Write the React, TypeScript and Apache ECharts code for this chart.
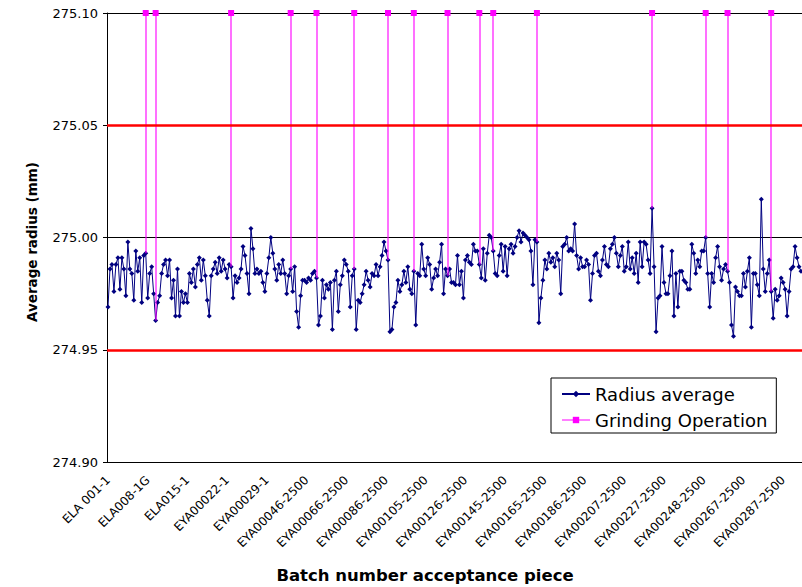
import React, { useEffect, useRef } from "react";
import * as echarts from "echarts";

const tickLabels = [
  "ELA 001-1", "ELA008-1G", "ELA015-1", "EYA00022-1", "EYA00029-1",
  "EYA00046-2500", "EYA00066-2500", "EYA00086-2500", "EYA00105-2500",
  "EYA00126-2500", "EYA00145-2500", "EYA00165-2500", "EYA00186-2500",
  "EYA00207-2500", "EYA00227-2500", "EYA00248-2500", "EYA00267-2500",
  "EYA00287-2500",
];
const labelStep = 20;

const radiusAverage = [
  274.969, 274.986, 274.988, 274.976, 274.988, 274.991, 274.977, 274.991, 274.986, 274.974,
  274.998, 274.986, 274.984, 274.972, 274.994, 274.985, 274.991, 274.971, 274.992, 274.993,
  274.973, 274.984, 274.987, 274.975, 274.963, 274.971, 274.974, 274.984, 274.988, 274.990,
  274.983, 274.990, 274.973, 274.981, 274.965, 274.986, 274.965, 274.976, 274.971, 274.975,
  274.971, 274.984, 274.980, 274.986, 274.978, 274.988, 274.991, 274.981, 274.990, 274.983,
  274.972, 274.965, 274.983, 274.986, 274.989, 274.984, 274.991, 274.985, 274.990, 274.986,
  274.982, 274.988, 274.987, 274.973, 274.983, 274.980, 274.982, 274.986, 274.996, 274.992,
  274.984, 274.975, 275.004, 274.995, 274.984, 274.986, 274.984, 274.985, 274.980, 274.976,
  274.984, 274.991, 275.000, 274.993, 274.986, 274.981, 274.988, 274.984,
  274.990, 274.984,
  274.975, 274.983, 274.986, 274.976, 274.987, 274.967, 274.960, 274.974, 274.981, 274.981,
  274.980, 274.982, 274.981, 274.984, 274.985, 274.982, 274.961, 274.965, 274.981, 274.973,
  274.979, 274.977, 274.980, 274.959, 274.981, 274.985, 274.967, 274.979, 274.983, 274.990,
  274.988, 274.985, 274.969, 274.983, 274.986, 274.959, 274.972, 274.971, 274.975, 274.979,
  274.985, 274.981, 274.978, 274.984, 274.983, 274.988, 274.983, 274.987, 274.992, 274.998,
  274.994, 274.990, 274.958, 274.959, 274.969, 274.971, 274.981, 274.976, 274.979, 274.985,
  274.980, 274.987, 274.977, 274.975, 274.985, 274.961, 274.984, 274.983, 274.997, 274.986,
  274.983, 274.991, 274.988, 274.977, 274.982, 274.986, 274.983, 274.989, 274.997, 274.975,
  274.986, 274.983, 274.986, 274.980, 274.980, 274.979,
  274.992, 274.979, 274.985, 274.973,
  274.990, 274.992, 274.989, 274.988, 274.997, 274.994, 274.994, 274.988, 274.982, 274.995,
  274.981, 274.993, 275.001, 275.000, 274.994, 274.984, 274.983, 274.992, 274.997, 274.985,
  274.996, 274.983, 274.995, 274.997, 274.993, 274.996, 275.000, 275.003, 274.998, 275.002,
  275.001, 275.000, 274.999, 274.994, 274.979, 274.999, 274.998, 274.962, 274.973, 274.981,
  274.990, 274.986, 274.993, 274.989, 274.991, 274.987, 274.993, 274.990, 274.975, 274.996,
  274.997, 275.000, 274.994, 274.995, 274.994, 275.006, 274.992, 274.986, 274.991, 274.987,
  274.987, 274.990, 274.988, 274.972, 274.984, 274.992, 274.993, 274.985, 274.983, 274.990,
  274.996, 274.988, 274.987, 274.995, 274.997, 275.000, 274.993, 274.987, 274.992, 274.996,
  274.985, 274.987,
  274.998, 274.986, 274.991, 274.984, 274.993, 274.980, 274.998, 274.987,
  274.998, 274.997, 274.990, 274.984, 275.013, 274.987, 274.958, 274.973, 274.974, 274.996,
  274.980, 274.975, 274.975, 274.983, 274.994, 274.965, 274.984, 274.969, 274.985, 274.985,
  274.981, 274.980, 274.977, 274.977, 274.997, 274.993, 274.984, 274.990, 274.987, 274.994,
  274.994, 275.000, 274.984, 274.969, 274.984, 274.980, 274.991, 274.996, 274.987, 274.981,
  274.986, 274.988, 274.985, 274.980, 274.961, 274.956, 274.978, 274.976, 274.974, 274.974,
  274.984, 274.978, 274.985, 274.991, 274.960, 274.984, 274.984, 274.979, 274.974, 275.017,
  274.986, 274.976, 274.984, 274.990, 274.976, 274.964, 274.977, 274.972, 274.974, 274.982,
  274.980, 274.977, 274.965, 274.976, 274.986, 274.987, 274.996, 274.991, 274.987, 274.985,
];

const grindingIndex = [19, 24, 62, 92, 105, 124, 141, 154, 171, 187, 194, 216, 274, 301, 312, 334];
const grindingLevel = 275.1;
const controlLimits = [274.95, 275.05];
const yMin = 274.9;
const yMax = 275.1;
const yStep = 0.05;

const FONT = "DejaVu Sans";
const MAGENTA = "#FF00FF";

export default function App() {
  const ref = useRef<HTMLDivElement>(null);

  useEffect(() => {
    if (!ref.current) return;
    const chart = echarts.init(ref.current, null, { renderer: "svg" });

    const categories = radiusAverage.map((_, i) => String(i));
    const grindingData = radiusAverage.map((_, i) =>
      grindingIndex.includes(i) ? grindingLevel : null
    );
    const grindingDrops = grindingIndex.map((i) => [
      { coord: [i, radiusAverage[i]] },
      { coord: [i, grindingLevel] },
    ]);

    chart.setOption({
      animation: false,
      backgroundColor: "#ffffff",
      grid: { left: 107, right: 0, top: 13, bottom: 125, containLabel: false },
      legend: {
        data: [
          { name: "Radius average" },
          { name: "Grinding Operation", lineStyle: { color: MAGENTA, width: 1 } },
        ],
        orient: "vertical",
        left: 551,
        top: 378,
        padding: [7, 9, 4, 10],
        itemGap: 8,
        itemWidth: 28,
        itemHeight: 8,
        backgroundColor: "#ffffff",
        borderColor: "#000000",
        borderWidth: 1,
        borderRadius: 0,
        textStyle: { fontFamily: FONT, fontSize: 18, color: "#000000" },
      },
      xAxis: {
        type: "category",
        data: categories,
        boundaryGap: true,
        axisLine: { lineStyle: { color: "#000000", width: 1 } },
        axisTick: { interval: labelStep - 1, length: 4, lineStyle: { color: "#000000" } },
        axisLabel: {
          interval: labelStep - 1,
          rotate: 45,
          margin: 16,
          fontFamily: FONT,
          fontSize: 12,
          color: "#000000",
          formatter: (_v: string, idx: number) =>
            idx % labelStep === 0 ? tickLabels[idx / labelStep] ?? "" : "",
        },
        splitLine: { show: false },
      },
      yAxis: {
        type: "value",
        min: yMin,
        max: yMax,
        interval: yStep,
        axisLine: { show: true, lineStyle: { color: "#000000", width: 1 } },
        axisTick: { show: true, length: 4, lineStyle: { color: "#000000" } },
        axisLabel: {
          margin: 9,
          fontFamily: FONT,
          fontSize: 13,
          color: "#000000",
          formatter: (v: number) => v.toFixed(2),
        },
        splitLine: { show: true, lineStyle: { color: "#000000", width: 1 } },
      },
      graphic: [
        {
          type: "text",
          x: 425,
          y: 575,
          style: {
            text: "Batch number acceptance piece",
            fontFamily: FONT,
            fontSize: 16.5,
            fontWeight: "bold",
            fill: "#000000",
            align: "center",
            verticalAlign: "middle",
          },
        },
        {
          type: "text",
          x: 32,
          y: 242,
          rotation: Math.PI / 2,
          style: {
            text: "Average radius (mm)",
            fontFamily: FONT,
            fontSize: 13.5,
            fontWeight: "bold",
            fill: "#000000",
            align: "center",
            verticalAlign: "middle",
          },
        },
      ],
      series: [
        {
          name: "Grinding Operation",
          type: "line",
          data: grindingData,
          connectNulls: false,
          showAllSymbol: true,
          z: 2,
          lineStyle: { color: MAGENTA, width: 1 },
          itemStyle: { color: MAGENTA },
          symbol: "rect",
          symbolSize: 6,
          markLine: {
            silent: true,
            symbol: ["none", "none"],
            label: { show: false },
            lineStyle: { color: MAGENTA, width: 1.5, type: "solid", opacity: 0.75 },
            data: grindingDrops,
          },
        },
        {
          name: "Radius average",
          type: "line",
          data: radiusAverage,
          showAllSymbol: true,
          symbol: "diamond",
          symbolSize: 5,
          z: 3,
          lineStyle: { color: "#000080", width: 1 },
          itemStyle: { color: "#000080" },
          markLine: {
            silent: true,
            symbol: ["none", "none"],
            label: { show: false },
            lineStyle: { color: "#FF0000", width: 2.5, type: "solid" },
            data: controlLimits.map((v) => ({ yAxis: v })),
          },
        },
      ],
    });

    return () => chart.dispose();
  }, []);

  return (
    <div
      ref={ref}
      style={{ position: "fixed", left: 0, top: 0, width: 802, height: 587 }}
    />
  );
}
